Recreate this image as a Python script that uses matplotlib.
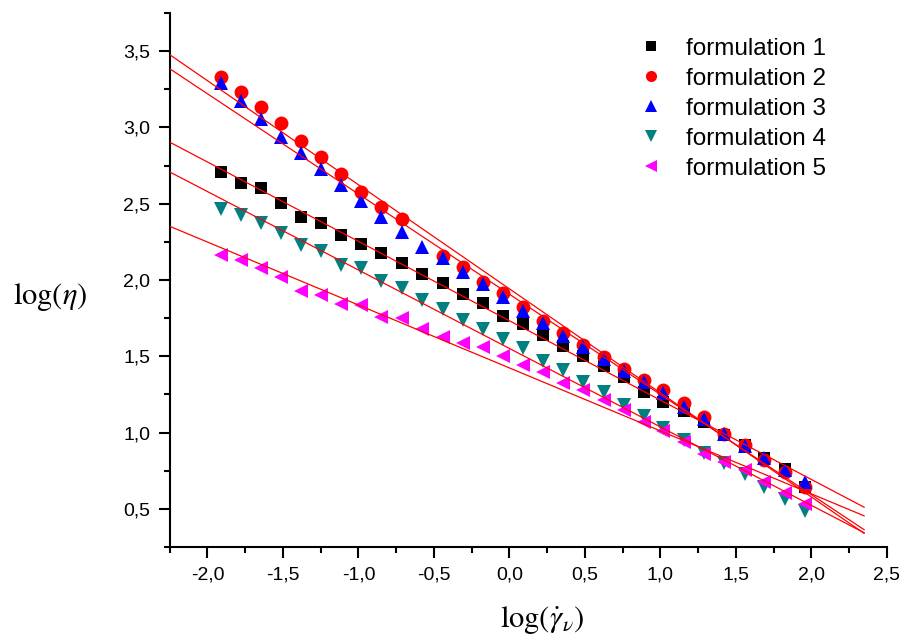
import numpy as np
import matplotlib
matplotlib.use("Agg")
import matplotlib.pyplot as plt
from matplotlib.ticker import MultipleLocator, FuncFormatter

plt.rcParams['font.family'] = ['Liberation Sans', 'DejaVu Sans']
plt.rcParams['mathtext.fontset'] = 'stix'

# shear rate (log) for all 30 measured points
x = [-1.91, -1.78, -1.645, -1.51, -1.38, -1.247, -1.115, -0.98, -0.85, -0.71,
     -0.578, -0.44, -0.31, -0.175, -0.044, 0.088, 0.22, 0.353, 0.49, 0.625,
     0.757, 0.89, 1.02, 1.157, 1.29, 1.42, 1.56, 1.69, 1.825, 1.958]

f1 = [2.709, 2.633, 2.600, 2.506, 2.414, 2.371, 2.294, 2.235, 2.178, 2.109,
      2.039, 1.978, 1.908, 1.852, 1.765, 1.712, 1.640, 1.568, 1.502, 1.437,
      1.363, 1.268, 1.203, 1.144, 1.072, 0.985, 0.920, 0.832, 0.760, 0.646]
# formulation 2 has no point at x = -0.578
f2 = [3.330, 3.230, 3.135, 3.026, 2.912, 2.803, 2.694, 2.578, 2.480, 2.397,
      np.nan, 2.160, 2.084, 1.990, 1.913, 1.820, 1.734, 1.655, 1.575, 1.498,
      1.415, 1.347, 1.280, 1.197, 1.100, 0.990, 0.920, 0.820, 0.744, 0.646]
f3 = [3.293, 3.174, 3.052, 2.934, 2.830, 2.725, 2.620, 2.519, 2.410, 2.316,
      2.213, 2.141, 2.053, 1.973, 1.890, 1.799, 1.720, 1.634, 1.560, 1.481,
      1.404, 1.334, 1.262, 1.170, 1.087, 0.990, 0.913, 0.832, 0.756, 0.679]
f4 = [2.463, 2.425, 2.371, 2.305, 2.229, 2.191, 2.097, 2.076, 1.995, 1.945,
      1.868, 1.807, 1.737, 1.682, 1.612, 1.553, 1.472, 1.411, 1.334, 1.268,
      1.181, 1.109, 1.029, 0.948, 0.865, 0.800, 0.727, 0.646, 0.563, 0.489]
f5 = [2.163, 2.130, 2.076, 2.021, 1.930, 1.900, 1.842, 1.836, 1.755, 1.748,
      1.676, 1.628, 1.589, 1.563, 1.502, 1.444, 1.400, 1.328, 1.280, 1.214,
      1.149, 1.072, 1.007, 0.935, 0.858, 0.810, 0.756, 0.679, 0.607, 0.535]

labels = ['formulation 1', 'formulation 2', 'formulation 3',
          'formulation 4', 'formulation 5']
series = [f1, f2, f3, f4, f5]
colors = ['black', '#ff0000', '#0000ff', '#008080', '#ff00ff']
markers = ['s', 'o', '^', 'v', '<']
msizes = [8.5, 10, 10.5, 10.5, 10.5]

fit_range = [-2.25, 2.35]

fig = plt.figure(figsize=(9.03, 6.37), dpi=100)
ax = fig.add_axes([0.188, 0.1413, 0.794, 0.8383])

xa = np.array(x)
for ys, c, m, ms, lab in zip(series, colors, markers, msizes, labels):
    ya = np.array(ys, dtype=float)
    ax.plot(xa, ya, linestyle='none', marker=m, color=c, markersize=ms,
            markeredgewidth=0, label=lab, zorder=2)

# linear fits, drawn over the symbols
for ys in series:
    ya = np.array(ys, dtype=float)
    ok = ~np.isnan(ya)
    k, b = np.polyfit(xa[ok], ya[ok], 1)
    xf = np.array(fit_range)
    ax.plot(xf, k * xf + b, color='#ff0000', linewidth=0.9, zorder=3)

ax.set_xlim(-2.25, 2.5)
ax.set_ylim(0.25, 3.75)

for s in ['top', 'right']:
    ax.spines[s].set_visible(False)
for s in ['left', 'bottom']:
    ax.spines[s].set_linewidth(1.5)

ax.xaxis.set_major_locator(MultipleLocator(0.5))
ax.xaxis.set_minor_locator(MultipleLocator(0.25))
ax.yaxis.set_major_locator(MultipleLocator(0.5))
ax.yaxis.set_minor_locator(MultipleLocator(0.25))
comma = FuncFormatter(lambda v, p: ('%.1f' % v).replace('.', ','))
ax.xaxis.set_major_formatter(comma)
ax.yaxis.set_major_formatter(comma)
ax.tick_params(which='major', direction='out', length=8, width=1.5,
               labelsize=14, pad=6)
ax.tick_params(which='minor', direction='out', length=4.5, width=1.5)

ax.set_ylabel(r'$\log(\eta)$', fontsize=22, rotation=0, ha='center', va='center')
ax.yaxis.set_label_coords(-0.167, 0.468)
ax.set_xlabel(r'$\log(\dot{\gamma}_{\nu})$', fontsize=22, va='center')
ax.xaxis.set_label_coords(0.52, -0.137)

leg = ax.legend(loc='upper left', bbox_to_anchor=(0.607, 0.995), frameon=False,
                fontsize=17.5, numpoints=1, handletextpad=0.45,
                labelspacing=0.33, markerscale=0.8)

fig.savefig('out.png', dpi=100)
